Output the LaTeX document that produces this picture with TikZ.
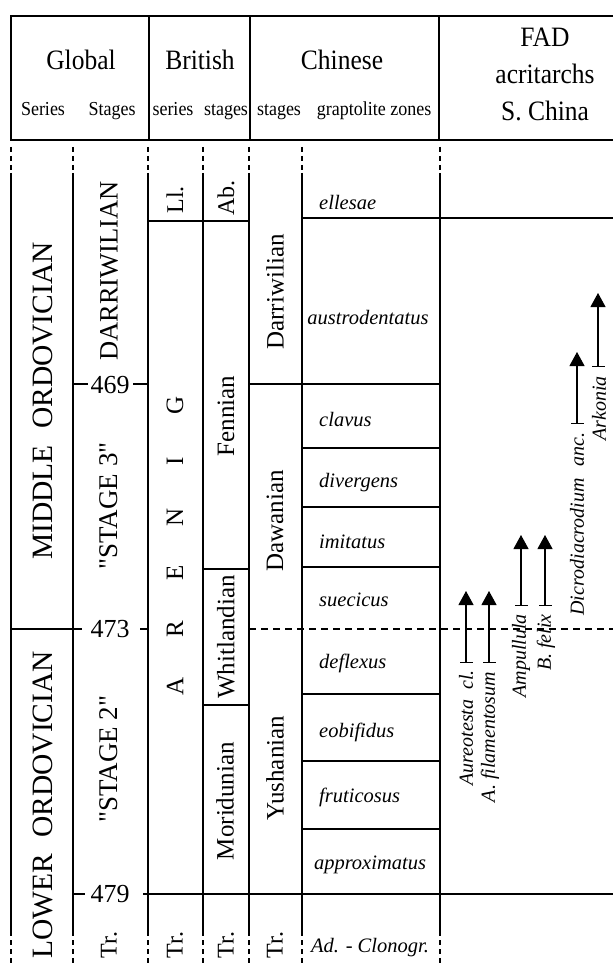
\documentclass[tikz,border=0pt]{standalone}
\usepackage{fontspec}
\setmainfont{Liberation Serif}[Ligatures=TeXOff]
\usetikzlibrary{arrows.meta}
\begin{document}
\begin{tikzpicture}[x=1pt,y=-1pt,
  ln/.style={line width=1.1pt},
  dsh/.style={line width=1.1pt, dash pattern=on 5pt off 4pt},
  hbig/.style={font=\fontsize{25.5}{30}\selectfont, inner sep=0pt, anchor=base, yscale=1.1},
  hsmall/.style={font=\fontsize{18}{21}\selectfont, inner sep=0pt, anchor=base, yscale=1.1},
  vt/.style={rotate=90, inner sep=0pt, font=\fontsize{25}{30}\selectfont},
  zone/.style={font=\fontsize{20.5}{24}\selectfont\itshape, inner sep=0pt},
  zonew/.style={zone, anchor=west},
  num/.style={font=\fontsize{26}{30}\selectfont, inner sep=0pt},
  fad/.style={line width=1.1pt, {Bar[width=13pt,line width=1.1pt]}-{Triangle[width=15pt,length=14pt]}},
  sp/.style={rotate=90, anchor=east, inner sep=0pt, font=\fontsize{20}{24}\selectfont\itshape},
]
\useasboundingbox (0,0) rectangle (613,965);
% header
\draw[ln] (613,16) -- (11,16) -- (11,140) -- (613,140);
\draw[ln] (149,16) -- (149,140) (250,16) -- (250,140) (439,16) -- (439,140);
\node[hbig] (hglobal) at (81,70) {Global};
\node[hsmall] (hseries) at (43,116) {Series};
\node[hsmall] (hstages) at (112,116) {Stages};
\node[hbig] (hbritish) at (200,70) {British};
\node[hsmall] (hbser) at (173,116) {series};
\node[hsmall] (hbsta) at (226,116) {stages};
\node[hbig] (hchinese) at (342,70) {Chinese};
\node[hsmall] (hcsta) at (279,116) {stages};
\node[hsmall] (hcgz) at (374,116) {graptolite zones};
\node[hbig] (hfad) at (545,47) {FAD};
\node[hbig] (hacr) at (545,84) {acritarchs};
\node[hbig] (hsch) at (545,121) {S. China};
% column lines
\foreach \x in {11,73,148,203,249,302,440} {
  \draw[ln] (\x,173) -- (\x,936);
  \draw[dsh] (\x,147) -- (\x,170);
  \draw[dsh] (\x,940) -- (\x,965);
}
% horizontal lines
\draw[ln] (148,221) -- (249,221);
\draw[ln] (302,218) -- (613,218);
\draw[ln] (249,384) -- (440,384);
\draw[ln] (302,448) -- (440,448);
\draw[ln] (302,507) -- (440,507);
\draw[ln] (302,567) -- (440,567);
\draw[ln] (203,569) -- (249,569);
\draw[ln] (11,629) -- (82,629);
\draw[ln] (140,629) -- (148,629);
\draw[line width=1.1pt, dash pattern=on 7pt off 5pt] (249,629) -- (613,629);
\draw[ln] (302,694) -- (440,694);
\draw[ln] (203,705) -- (249,705);
\draw[ln] (302,761) -- (440,761);
\draw[ln] (302,829) -- (440,829);
\draw[ln] (73,384) -- (88,384) (133,384) -- (148,384);
\draw[ln] (73,894) -- (85,894) (143,894) -- (613,894);
% numbers
\node[num] (n469) at (110,385) {469};
\node[num] (n473) at (110,629) {473};
\node[num] (n479) at (110,894) {479};
% global
\node[vt, font=\fontsize{29.5}{34}\selectfont] (mo) at (43,401) {MIDDLE\hspace{0.55em}ORDOVICIAN};
\node[vt, font=\fontsize{29.5}{34}\selectfont] (lo) at (43,805) {LOWER\hspace{0.55em}ORDOVICIAN};
\node[vt, font=\fontsize{26.5}{30}\selectfont] (darr) at (109,271) {DARRIWILIAN};
\node[vt, font=\fontsize{27}{30}\selectfont] (st3) at (109,506) {"STAGE 3"};
\node[vt, font=\fontsize{27}{30}\selectfont] (st2) at (109,759) {"STAGE 2"};
% british
\node[vt, font=\fontsize{24}{28}\selectfont] (ll) at (175,200) {Ll.};
\node[vt, font=\fontsize{24}{28}\selectfont] (ab) at (226,198) {Ab.};
\node[vt] (ag) at (175,405) {G};
\node[vt] (ai) at (175,461) {I};
\node[vt] (an) at (175,517) {N};
\node[vt] (ae) at (175,573) {E};
\node[vt] (ar) at (175,629) {R};
\node[vt] (aa) at (175,686) {A};
\node[vt] (fen) at (226,416) {Fennian};
\node[vt] (whi) at (226,637) {Whitlandian};
\node[vt] (mor) at (225,801) {Moridunian};
% chinese stages
\node[vt] (cdar) at (275,292) {Darriwilian};
\node[vt] (cdaw) at (275,521) {Dawanian};
\node[vt] (cyus) at (275,768) {Yushanian};
% Tr.
\node[vt, font=\fontsize{24}{28}\selectfont] (tr1) at (109,945) {Tr.};
\node[vt, font=\fontsize{24}{28}\selectfont] (tr2) at (175,945) {Tr.};
\node[vt, font=\fontsize{24}{28}\selectfont] (tr3) at (226,945) {Tr.};
\node[vt, font=\fontsize{24}{28}\selectfont] (tr4) at (275,945) {Tr.};
% zones
\node[zonew] (z1) at (319,202) {ellesae};
\node[zone] (z2) at (368,318) {austrodentatus};
\node[zonew] (z3) at (319,420) {clavus};
\node[zonew] (z4) at (319,483) {divergens};
\node[zonew] (z5) at (319,542) {imitatus};
\node[zonew] (z6) at (319,600) {suecicus};
\node[zonew] (z7) at (319,663) {deflexus};
\node[zonew] (z8) at (319,732) {eobifidus};
\node[zonew] (z9) at (319,797) {fruticosus};
\node[zone] (z10) at (370,865) {approximatus};
\node[zone] (z11) at (370,948) {Ad. - Clonogr.};
% FAD arrows
\coordinate (a1b) at (466,663); \coordinate (a1t) at (466,591);
\coordinate (a2b) at (489,663); \coordinate (a2t) at (489,591);
\coordinate (a3b) at (521,606); \coordinate (a3t) at (521,535);
\coordinate (a4b) at (545,606); \coordinate (a4t) at (545,535);
\coordinate (a5b) at (577,424); \coordinate (a5t) at (577,352);
\coordinate (a6b) at (598,367); \coordinate (a6t) at (598,293);
\draw[fad] (a1b) -- (a1t);
\draw[fad] (a2b) -- (a2t);
\draw[fad] (a3b) -- (a3t);
\draw[fad] (a4b) -- (a4t);
\draw[fad] (a5b) -- (a5t);
\draw[fad] (a6b) -- (a6t);
\node[sp] (s1) at (466,670) {Aureotesta\hspace{0.5em}cl.};
\node[sp] (s2) at (490,672) {A. filamentosum};
\node[sp] (s3) at (521,614) {Ampullula};
\node[sp] (s4) at (546,614) {B. felix};
\node[sp] (s5) at (577,432) {Dicrodiacrodium\hspace{0.6em}anc.};
\node[sp] (s6) at (599,376) {Arkonia};
\end{tikzpicture}
\end{document}
